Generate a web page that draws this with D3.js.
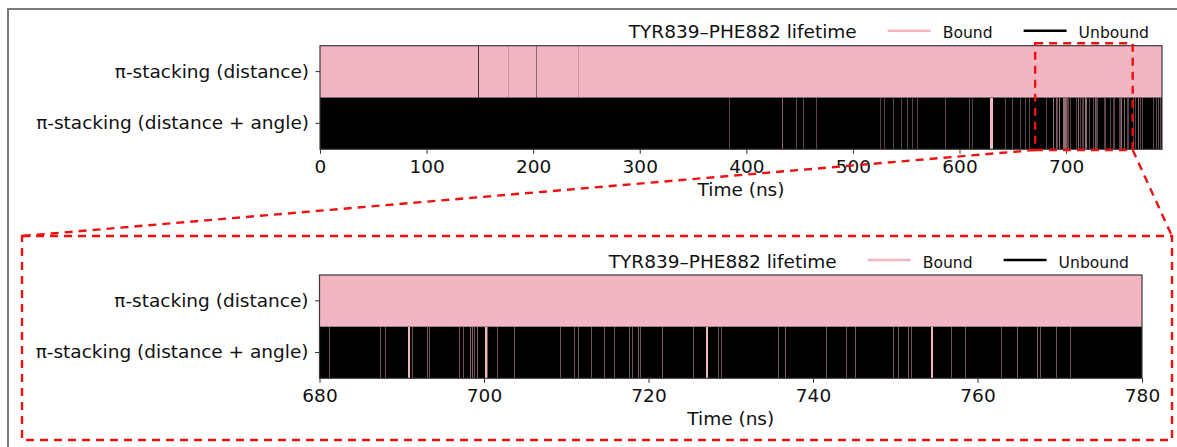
<!DOCTYPE html>
<html>
<head>
<meta charset="utf-8">
<script src="https://cdn.jsdelivr.net/npm/d3@7"></script>
<style>
  html, body { margin: 0; padding: 0; background: #fff; }
  svg { display: block; }
  text { font-family: "DejaVu Sans", sans-serif; fill: #111; }
</style>
</head>
<body>
<svg id="chart" width="1177" height="447"></svg>
<script>
// ---------------- data ----------------
const rows = ["π-stacking (distance)", "π-stacking (distance + angle)"];
const legendTitle = "TYR839–PHE882 lifetime";
const legendLabels = ["Bound", "Unbound"];
const xLabel = "Time (ns)";

// full trajectory axis and zoomed axis
const overviewDomain = [0, 790];
const overviewTicks = [0, 100, 200, 300, 400, 500, 600, 700];
const zoomDomain = [680, 780];
const zoomTicks = [680, 700, 720, 740, 760, 780];
// highlighted window drawn on the overview (ns)
const highlightWindow = [671, 762.5];

// "distance" row: bound throughout, short unbound gaps [start ns, duration ns]
const distanceUnbound = [
  [147.8, 0.6], [176.0, 0.02], [202.9, 0.3], [242.5, 0.02]
];

// "distance + angle" row: unbound throughout, short bound events [start ns, duration ns]
const angleBound = [
  [384.0, 0.02], [433.5, 0.3], [446.5, 0.05], [453.0, 0.05], [465.5, 0.05],
  [525.0, 0.02], [529.0, 0.02], [538.0, 0.05], [545.0, 0.02], [551.0, 0.05],
  [555.0, 0.02], [560.0, 0.02], [586.0, 0.05], [609.0, 0.05], [612.0, 0.02],
  [629.0, 2.5], [642.8, 0.05], [649.0, 0.05], [657.0, 0.02], [661.0, 0.02],
  [665.5, 0.05],
  [681.2, 0.02], [687.3, 0.02], [688.0, 0.02], [690.7, 0.25], [691.2, 0.02],
  [693.1, 0.03], [693.3, 0.02], [697.0, 0.02], [697.5, 0.02], [698.3, 0.04],
  [698.5, 0.04], [698.8, 0.03], [699.2, 0.03], [700.1, 0.25], [700.4, 0.02],
  [701.6, 0.02], [703.6, 0.02], [709.3, 0.02], [710.9, 0.02], [711.4, 0.02],
  [713.0, 0.02], [714.6, 0.02], [715.8, 0.02], [717.6, 0.02], [718.0, 0.02],
  [718.7, 0.03], [719.0, 0.02], [721.6, 0.03], [725.4, 0.02], [727.0, 0.25],
  [728.5, 0.02], [728.8, 0.02], [735.8, 0.02], [736.6, 0.03], [741.6, 0.02],
  [744.0, 0.02], [745.1, 0.03], [749.7, 0.02], [750.3, 0.02], [751.5, 0.03],
  [751.9, 0.02], [754.3, 0.25], [756.8, 0.02], [758.5, 0.02], [762.8, 0.02],
  [764.8, 0.03], [767.2, 0.03], [767.6, 0.02], [769.5, 0.02], [771.2, 0.02],
  [781.5, 0.05], [784.0, 0.05], [786.5, 0.1], [788.5, 0.05]
];

// ---------------- style ----------------
const PINK = "#f2b5c2";
const BLACK = "#000000";
const RED = "#ee1111";
const FONT = 18.5;

const svg = d3.select("#chart");
svg.append("rect").attr("width", 1177).attr("height", 447).attr("fill", "#fff");
// outer figure frame
svg.append("rect").attr("x", 8).attr("y", 9).attr("width", 1190).attr("height", 460)
  .attr("fill", "none").attr("stroke", "#7a7a7a").attr("stroke-width", 2);

function panel(cfg) {
  const x = d3.scaleLinear().domain(cfg.domain).range([cfg.left, cfg.right]);
  const y = d3.scaleBand().domain(rows).range([cfg.top, cfg.bottom]).padding(0);
  const g = svg.append("g");
  const clipId = "clip" + cfg.id;
  g.append("clipPath").attr("id", clipId).append("rect")
    .attr("x", cfg.left).attr("y", cfg.top)
    .attr("width", cfg.right - cfg.left).attr("height", cfg.bottom - cfg.top);
  const plot = g.append("g").attr("clip-path", `url(#${clipId})`);

  // base states
  plot.append("rect").attr("x", x(cfg.domain[0])).attr("y", y(rows[0]))
    .attr("width", x(cfg.domain[1]) - x(cfg.domain[0])).attr("height", y.bandwidth()).attr("fill", PINK);
  plot.append("rect").attr("x", x(cfg.domain[0])).attr("y", y(rows[1]))
    .attr("width", x(cfg.domain[1]) - x(cfg.domain[0])).attr("height", y.bandwidth()).attr("fill", BLACK);

  // sub-pixel events are drawn 1px wide with reduced opacity (like anti-aliasing)
  function events(data, row, color, floor) {
    const vis = data.filter(d => d[0] + d[1] >= cfg.domain[0] && d[0] <= cfg.domain[1]);
    plot.append("g").selectAll("rect").data(vis).join("rect")
      .attr("shape-rendering", "crispEdges")
      .attr("x", d => Math.round(x(d[0])))
      .attr("width", d => Math.max(1, Math.round(x(d[0] + d[1]) - x(d[0]))))
      .attr("y", y(row)).attr("height", y.bandwidth())
      .attr("fill", color)
      .attr("fill-opacity", d => Math.min(1, floor + (1 - floor) * (x(d[0] + d[1]) - x(d[0]))));
  }
  events(distanceUnbound, rows[0], BLACK, 0.15);
  events(angleBound, rows[1], PINK, 0.35);

  // axes
  const xa = g.append("g").attr("transform", `translate(0,${cfg.bottom})`)
    .call(d3.axisBottom(x).tickValues(cfg.ticks).tickSize(4.5).tickSizeOuter(0).tickPadding(6.4));
  const ya = g.append("g").attr("transform", `translate(${cfg.left},0)`)
    .call(d3.axisLeft(y).tickSize(4.5).tickSizeOuter(0).tickPadding(6.5));
  [xa, ya].forEach(a => {
    a.select(".domain").remove();
    a.selectAll(".tick line").attr("stroke", "#333").attr("stroke-width", 1);
    a.selectAll(".tick text").attr("font-family", "DejaVu Sans").attr("font-size", FONT).attr("fill", "#111");
  });

  // frame
  g.append("rect").attr("x", cfg.left).attr("y", cfg.top)
    .attr("width", cfg.right - cfg.left).attr("height", cfg.bottom - cfg.top)
    .attr("fill", "none").attr("stroke", "#3a3a3a").attr("stroke-width", 1.2);

  // x label
  g.append("text").attr("x", (cfg.left + cfg.right) / 2).attr("y", cfg.bottom + 46.5)
    .attr("text-anchor", "middle").attr("font-size", FONT).text(xLabel);

  // legend (flowed from the right)
  const lg = g.append("g");
  const baseY = cfg.top - 7.5, lineY = cfg.top - 15;
  let cursor = cfg.right - 13;
  const items = [{label: legendLabels[1], color: BLACK}, {label: legendLabels[0], color: PINK}];
  items.forEach(it => {
    const t = lg.append("text").attr("font-size", 15.6).attr("text-anchor", "end")
      .attr("x", cursor).attr("y", baseY).text(it.label);
    const w = t.node().getComputedTextLength();
    const lineEnd = cursor - w - 12;
    lg.append("line").attr("x1", lineEnd - 43).attr("x2", lineEnd)
      .attr("y1", lineY).attr("y2", lineY).attr("stroke", it.color).attr("stroke-width", 2.6);
    cursor = lineEnd - 43 - 31;
  });
  lg.append("text").attr("font-size", FONT).attr("text-anchor", "end")
    .attr("x", cursor).attr("y", baseY).text(legendTitle);

  return {x, y};
}

const overviewPanel = panel({id: "a", left: 320, right: 1162, top: 45.7, bottom: 149.3,
  domain: overviewDomain, ticks: overviewTicks});
const zoomPanel = panel({id: "b", left: 319.5, right: 1142, top: 275, bottom: 378.3,
  domain: zoomDomain, ticks: zoomTicks});

// zoom annotation
const dash = {stroke: RED, "stroke-width": 2.4, "stroke-dasharray": "8,6", fill: "none"};
function styled(sel) { Object.entries(dash).forEach(([k, v]) => sel.attr(k, v)); return sel; }
const hx0 = overviewPanel.x(highlightWindow[0]), hx1 = overviewPanel.x(highlightWindow[1]);
const hy0 = 43.3, hy1 = 150;
const bx0 = 22, bx1 = 1172, by0 = 236, by1 = 440;
styled(svg.append("rect").attr("x", hx0).attr("y", hy0).attr("width", hx1 - hx0).attr("height", hy1 - hy0));
styled(svg.append("line").attr("x1", hx0).attr("y1", hy1).attr("x2", bx0).attr("y2", by0));
styled(svg.append("line").attr("x1", hx1).attr("y1", hy1).attr("x2", bx1).attr("y2", by0));
styled(svg.append("rect").attr("x", bx0).attr("y", by0).attr("width", bx1 - bx0).attr("height", by1 - by0));
</script>
</body>
</html>
